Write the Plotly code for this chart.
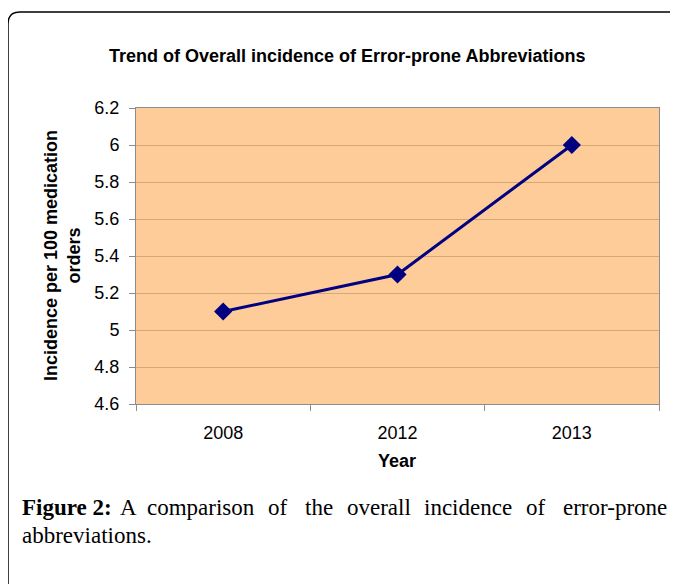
import plotly.graph_objects as go

years = ["2008", "2012", "2013"]
incidence = [5.1, 5.3, 6.0]

title_text = "Trend of Overall incidence of Error-prone Abbreviations"
y_title = "Incidence per 100 medication<br>orders"
x_title = "Year"
caption_words = ["<b>Figure 2:</b>", "A", "comparison", "of", "the", "overall", "incidence", "of", "error-prone"]
caption_word_center = [68, 128, 201, 278, 319, 379, 468, 536, 613]
caption_line2 = "abbreviations."

OFF = 8  # page body margin
W, H = 678 - OFF, 584 - OFF
L, R, T, B = 136, 659, 108, 404  # plot area in page pixels
pw, ph = R - L, B - T

def px(x):
    return (x - L) / pw

def py(y):
    return (B - y) / ph

fig = go.Figure()
fig.add_trace(go.Scatter(
    x=years, y=incidence, mode="lines+markers",
    line=dict(color="#000080", width=3),
    marker=dict(symbol="diamond", size=14, color="#000080"),
    showlegend=False, hoverinfo="x+y",
))

font = "Liberation Sans, Arial, sans-serif"
serif = "Liberation Serif, Times New Roman, serif"

fig.update_layout(
    width=W, height=H,
    margin=dict(l=L - OFF, r=678 - R, t=T - OFF, b=584 - B, pad=0),
    paper_bgcolor="white",
    plot_bgcolor="#FECC98",
    font=dict(family=font, size=18, color="black"),
    xaxis=dict(
        type="category", range=[-0.5, 2.5],
        showline=True, linecolor="#8c8c8c", linewidth=1, mirror=True,
        ticks="outside", tickson="boundaries", ticklen=6, tickcolor="#8c8c8c",
        ticklabelstandoff=12,
        showgrid=False, tickfont=dict(size=18), zeroline=False,
    ),
    yaxis=dict(
        range=[4.6, 6.2], dtick=0.2, tickformat="~g",
        showline=True, linecolor="#8c8c8c", linewidth=1, mirror=True,
        ticks="outside", ticklen=6, tickcolor="#8c8c8c",
        ticklabelstandoff=6,
        showgrid=True, gridcolor="#D6A878", gridwidth=1,
        tickfont=dict(size=18), zeroline=False,
    ),
)

ann = []
ann.append(dict(text="<b>" + title_text + "</b>", x=px(347), y=py(56), xref="paper", yref="paper",
                showarrow=False, font=dict(size=18, family=font), xanchor="center", yanchor="middle"))
ann.append(dict(text="<b>" + y_title + "</b>", x=px(62), y=py(256), xref="paper", yref="paper",
                showarrow=False, textangle=-90, font=dict(size=18, family=font), xanchor="center", yanchor="middle"))
ann.append(dict(text="<b>" + x_title + "</b>", x=px(397), y=py(461), xref="paper", yref="paper",
                showarrow=False, font=dict(size=18, family=font), xanchor="center", yanchor="middle"))

n = len(caption_words)
for i, (w, xc) in enumerate(zip(caption_words, caption_word_center)):
    if i == 0:
        xa, xx = "left", 20
    elif i == n - 1:
        xa, xx = "right", 669
    else:
        xa, xx = "center", xc
    ann.append(dict(text=w, x=px(xx), y=py(507), xref="paper", yref="paper", showarrow=False,
                    font=dict(size=23, family=serif), xanchor=xa, yanchor="middle"))
ann.append(dict(text=caption_line2, x=px(20), y=py(535), xref="paper", yref="paper", showarrow=False,
                font=dict(size=23, family=serif), xanchor="left", yanchor="middle"))
fig.update_layout(annotations=ann)

# rounded frame
x0, y0, x1, y1, r = 8, 12, 700, 620, 12
rx, ry = r / pw, r / ph
path = (f"M {px(x0)},{py(y1)} L {px(x0)},{py(y0) - ry} "
        f"Q {px(x0)},{py(y0)} {px(x0) + rx},{py(y0)} "
        f"L {px(x1)},{py(y0)}")
fig.add_shape(type="path", path=path, xref="paper", yref="paper",
              line=dict(color="black", width=1.5), layer="above")

fig.write_html("out.html")
